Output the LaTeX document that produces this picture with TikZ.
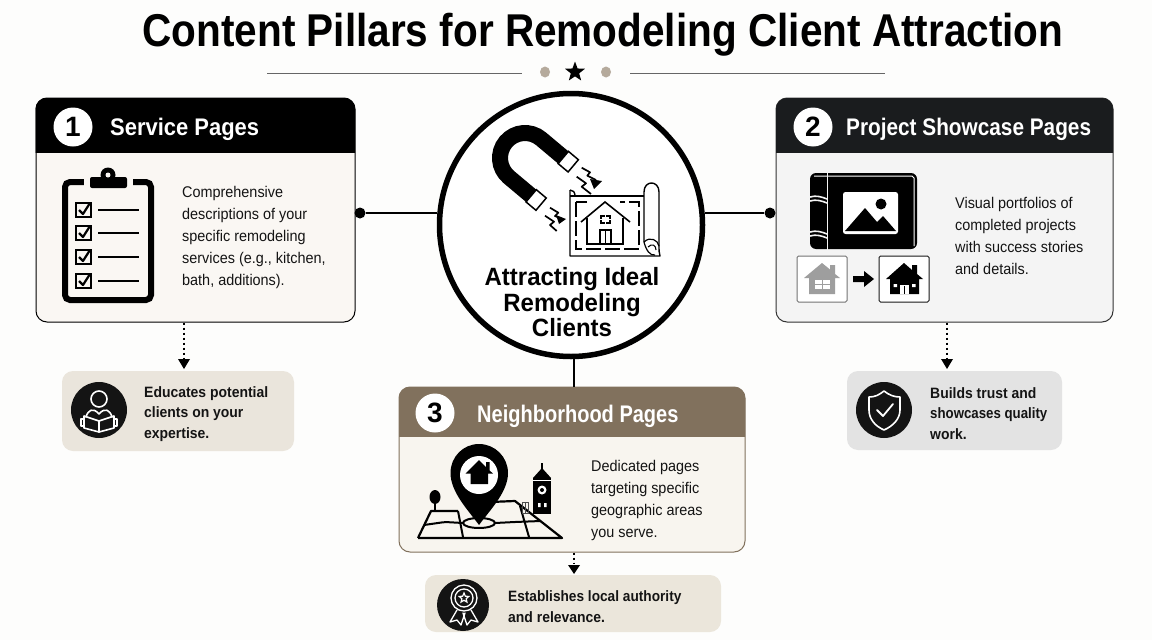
\documentclass[tikz,border=0pt]{standalone}
\usepackage{fontspec}
\usepackage{graphicx}
\setmainfont{Liberation Sans}
\newfontfamily\bodyfam[FakeStretch=0.93]{Liberation Sans}
\usetikzlibrary{shapes.geometric,arrows.meta}
\definecolor{pagebg}{HTML}{FDFDFC}
\definecolor{cardA}{HTML}{FAF7F3}
\definecolor{cardB}{HTML}{F4F4F4}
\definecolor{cardC}{HTML}{F8F5EF}
\definecolor{headB}{HTML}{1A1C1E}
\definecolor{headC}{HTML}{81715D}
\definecolor{callA}{HTML}{EAE5DC}
\definecolor{callB}{HTML}{E3E3E3}
\definecolor{callC}{HTML}{EBE6DB}
\definecolor{dotc}{HTML}{B5AA9C}
\definecolor{ink}{HTML}{141414}
\tikzset{
 cardbox/.style={draw=#1,line width=1pt,rounded corners=11pt,inner sep=0pt},
 callbox/.style={rounded corners=11pt,inner sep=0pt},
 numdisc/.style={circle,fill=white,minimum size=39pt,inner sep=0pt,text=black,font=\fontsize{28}{28}\selectfont\bfseries},
 headtext/.style={anchor=west,inner sep=0pt,text=white,font=\fontsize{24}{24}\selectfont\bfseries},
 bodytext/.style={anchor=west,inner sep=0pt,align=left,text=ink,font=\bodyfam\fontsize{15.5}{22}\selectfont},
 calltext/.style={anchor=west,inner sep=0pt,align=left,text=ink,font=\bodyfam\fontsize{15}{20.5}\selectfont\bfseries},
 icondisc/.style={circle,fill=ink,inner sep=0pt},
 enddot/.style={circle,fill=black,minimum size=11pt,inner sep=0pt},
 solidlink/.style={draw=black,line width=2.2pt},
 dotlink/.style={draw=black,line width=1.6pt,dash pattern=on 2.4pt off 2.6pt},
 tiptri/.style={fill=black},
 wline/.style={draw=white,line width=1.6pt,line join=round,line cap=round},
 kline/.style={draw=black,line width=1.7pt,line join=round},
}
\begin{document}
\begin{tikzpicture}[x=1pt,y=-1pt]
\useasboundingbox (0,0) rectangle (1152,640);
\fill[pagebg] (0,0) rectangle (1152,640);

% Title
\node[inner sep=0pt,text=black,font=\fontsize{46}{48}\selectfont\bfseries] (title) at (603,35) {\scalebox{0.881}[1]{Content Pillars for Remodeling Client Attraction}};
\coordinate (dla) at (267,73); \coordinate (dlb) at (522,73);
\coordinate (dra) at (630,73); \coordinate (drb) at (885,73);
\draw[draw=black!60,line width=1pt] (dla) -- (dlb);
\draw[draw=black!60,line width=1pt] (dra) -- (drb);
\node[ellipse,fill=dotc,minimum width=10pt,minimum height=11pt,inner sep=0pt] (dotl) at (545,72) {};
\node[ellipse,fill=dotc,minimum width=10pt,minimum height=11pt,inner sep=0pt] (dotr) at (606,72) {};
\node[star,star points=5,star point ratio=2.4,fill=black,minimum size=21pt,inner sep=0pt] (starmark) at (575,72) {};

% Cards
\node[cardbox=black,fill=cardA,minimum width=319pt,minimum height=224pt] (card1) at (195.5,210) {};
\node[cardbox=black!80,fill=cardB,minimum width=337pt,minimum height=224pt] (card2) at (944.5,210) {};
\node[cardbox=headC,fill=cardC,minimum width=346pt,minimum height=165pt] (card3) at (572,469.5) {};
\begin{scope}
\clip[rounded corners=11pt] (35.5,98) rectangle (355,322);
\fill[black] (35,98) rectangle (356,153);
\end{scope}
\begin{scope}
\clip[rounded corners=11pt] (776,98) rectangle (1113,322);
\fill[headB] (775,98) rectangle (1114,153);
\end{scope}
\begin{scope}
\clip[rounded corners=11pt] (399,387) rectangle (745,552);
\fill[headC] (398,387) rectangle (746,437);
\end{scope}

% Hub and connectors
\node[enddot] (dot1) at (360,213) {};
\node[enddot] (dot2) at (770,213) {};
\node[circle,draw=black,fill=white,line width=5.5pt,minimum size=263pt,inner sep=0pt] (hub) at (571,225) {};
\coordinate (vx) at (574,370);
\draw[solidlink] (dot1) -- (dot1 -| hub.west);
\draw[solidlink] (dot2) -- (dot2 -| hub.east);
\draw[solidlink] (hub.south -| vx) -- (card3.north -| vx);

% Headers
\node[numdisc] (num1) at (73,127) {1};
\node[headtext] (head1) at (110,129.5) {\scalebox{0.915}[1]{Service Pages}};
\node[numdisc] (num2) at (813,127) {2};
\node[headtext] (head2) at (846,129.5) {\scalebox{0.866}[1]{Project Showcase Pages}};
\node[numdisc] (num3) at (435,413) {3};
\node[headtext] (head3) at (477,416.5) {\scalebox{0.834}[1]{Neighborhood Pages}};

% Body texts
\node[bodytext] (body1) at (182,237.5) {Comprehensive\\descriptions of your\\specific remodeling\\services (e.g., kitchen,\\bath, additions).};
\node[bodytext] (body2) at (955,236) {Visual portfolios of\\completed projects\\with success stories\\and details.};
\node[bodytext] (body3) at (591,500) {Dedicated pages\\targeting specific\\geographic areas\\you serve.};

% Hub text
\node[inner sep=0pt,align=center,text=black,font=\fontsize{25}{25.5}\selectfont\bfseries] (hubtext) at (572,302.5) {\scalebox{0.96}[1]{Attracting Ideal}\\\scalebox{0.96}[1]{Remodeling}\\\scalebox{0.96}[1]{Clients}};

% Callouts
\node[callbox,fill=callA,minimum width=232pt,minimum height=80pt] (call1) at (178,411) {};
\node[callbox,fill=callB,minimum width=215pt,minimum height=79pt] (call2) at (954.5,410.5) {};
\node[callbox,fill=callC,minimum width=296pt,minimum height=57pt] (call3) at (573,603.5) {};
\node[icondisc,minimum size=56pt] (ic1) at (99,410) {};
\node[icondisc,minimum size=56pt] (ic2) at (884,410) {};
\node[icondisc,minimum size=52pt] (ic3) at (463,605) {};
\node[calltext] (ct1) at (144,414) {Educates potential\\clients on your\\expertise.};
\node[calltext] (ct2) at (930,413.5) {Builds trust and\\\scalebox{0.95}[1]{showcases quality}\\work.};
\node[calltext] (ct3) at (508,606.5) {\scalebox{0.98}[1]{Establishes local authority}\\and relevance.};

% Dotted arrows
\coordinate (ax1) at (184,340); \coordinate (ax2) at (947,340); \coordinate (ax3) at (574,560);
\coordinate (ae1) at (184,358); \coordinate (ae2) at (947,358); \coordinate (ae3) at (574,564);
\draw[dotlink] (card1.south -| ax1) -- (ae1);
\draw[dotlink] (card2.south -| ax2) -- (ae2);
\draw[dotlink] (card3.south -| ax3) -- (ae3);
\fill[tiptri] (178,359) -- (190,359) -- (184,369) -- cycle;
\fill[tiptri] (941,359) -- (953,359) -- (947,369) -- cycle;
\fill[tiptri] (568,565) -- (580,565) -- (574,574) -- cycle;

% Clipboard icon
\draw[black,line width=6pt,rounded corners=5pt] (65,182) rectangle (151,300);
\fill[cardA] (84,172) rectangle (133,186);
\fill[black,rounded corners=2pt] (90,177) rectangle (127,188);
\fill[black] (108,175) circle (7.5pt);
\fill[cardA] (108,175) circle (2.5pt);
\foreach \yy in {210,233,257,281}{
  \draw[black,line width=2pt] (76,\yy-7) rectangle (91,\yy+7);
  \draw[black,line width=2.2pt,line join=round] (79,\yy) -- (83,\yy+4) -- (90,\yy-7);
  \draw[black,line width=2.6pt] (98,\yy) -- (139,\yy);
}

% Magnet icon
\begin{scope}[shift={(525,158)},rotate=-40]
\draw[black,line width=16pt] (29,-25) -- (0,-25) arc[start angle=90,end angle=270,radius=25pt] -- (29,25);
\draw[black,fill=white,line width=1.5pt] (29,-33) rectangle (42,-17);
\draw[black,fill=white,line width=1.5pt] (29,17) rectangle (42,33);
\end{scope}
% Sparks
\draw[kline] (581.7,167.7) -- (590,172.3) -- (587.3,175.7) -- (596,180);
\fill[black] (590,179) -- (602,181) -- (594,189) -- cycle;
\draw[kline] (576.7,176.7) -- (586,183.3) -- (581.7,186.7) -- (591,194);
\draw[kline] (550,207.7) -- (558.3,212.7) -- (555,216) -- (562,219);
\fill[black] (556,215) -- (566,219) -- (559,224) -- cycle;
\draw[kline] (545,215.7) -- (554,221.7) -- (550,225) -- (556.7,231);

% Blueprint icon
\draw[black,line width=1.4pt,line join=round] (570,196) -- (644,196);
\draw[black,line width=1.4pt,line join=round] (570,190) -- (570,256) -- (660,256) .. controls (659,253) and (659,250) .. (659,246);
\draw[black,line width=1.4pt] (570,190) .. controls (573,190) and (575,192) .. (575,196);
\draw[black,line width=1.4pt] (644,242) -- (644,192) .. controls (644,180) and (659,180) .. (659,192) -- (659,246);
\draw[black,line width=1.2pt] (644,242) .. controls (646,250) and (650,256) .. (655,255);
\draw[black,line width=1.2pt] (644,242) .. controls (650,236) and (658,240) .. (659,246);
\draw[black,line width=1.1pt] (648,247) .. controls (652,243) and (656,245) .. (656,250);
\draw[black,line width=1.3pt,dash pattern=on 15pt off 4pt] (576,202) rectangle (639,249);
\fill[white] (590,201) rectangle (620,204);
\draw[black,line width=1.6pt,line join=miter] (581,222) -- (605,202) -- (630,222);
\draw[black,line width=1.6pt] (587,218) -- (587,244) -- (623,244) -- (623,218);
\draw[black,line width=1.5pt] (600,244) -- (600,230) -- (611,230) -- (611,244);
\draw[black,line width=1pt] (605.5,230) -- (605.5,244);
\draw[black,line width=1.3pt] (601,216) rectangle (610,223);
\draw[white,line width=1.5pt] (605.5,214) -- (605.5,225) (599,219.5) -- (612,219.5);

% Album icon
\fill[black,rounded corners=6pt] (810,173) rectangle (917,249);
\draw[white,line width=1pt,rounded corners=4pt] (814,176) -- (908,176) .. controls (912,176) and (914,178) .. (914,182) -- (914,246);
\draw[cardB,line width=1.6pt] (827.5,172) -- (827.5,250);
\draw[cardB,line width=1.6pt] (810,197) .. controls (816,195) and (822,197) .. (827,199);
\draw[cardB,line width=1.6pt] (810,201) .. controls (816,199) and (822,201) .. (827,203);
\draw[cardB,line width=1.6pt] (810,232) .. controls (816,230) and (822,232) .. (827,234);
\draw[cardB,line width=1.6pt] (810,236) .. controls (816,234) and (822,236) .. (827,238);
\fill[white,rounded corners=2.5pt] (843,192) rectangle (898,234);
\fill[black] (845,231) -- (865,208) -- (877,222) -- (883,216) -- (896,231) -- cycle;
\fill[black] (881,204) circle (5.5pt);

% Before/after
\node[draw=black!55,fill=white,rounded corners=1.5pt,line width=1pt,minimum width=50pt,minimum height=46pt,inner sep=0pt] (before) at (822,279) {};
\node[draw=black!90,fill=white,rounded corners=1.5pt,line width=1pt,minimum width=50pt,minimum height=46pt,inner sep=0pt] (after) at (904,279) {};
\fill[black!38] (804,278) -- (822,263) -- (830,269.5) -- (830,265) -- (835,265) -- (835,274) -- (840,278) -- (835,278) -- (835,294) -- (809,294) -- (809,278) -- cycle;
\fill[white] (815,280) rectangle (830,289);
\draw[black!38,line width=1pt] (822.5,280) -- (822.5,289) (815,284.5) -- (830,284.5);
\fill[black] (853,276) -- (864,276) -- (864,271) -- (874,279) -- (864,287) -- (864,282) -- (853,282) -- cycle;
\fill[black] (886,279) -- (904,263) -- (912,270) -- (912,265) -- (917,265) -- (917,274) -- (923,279) -- (919,279) -- (919,294) -- (890,294) -- (890,279) -- cycle;
\fill[white] (900,294) rectangle (909,285);
\fill[black] (904,286) rectangle (905,294);
\fill[white] (893.5,284) rectangle (897,287) (912,284) rectangle (915.5,287);

% Map icon
\draw[black,line width=2.2pt,line join=round] (418,538) -- (431,511) -- (458,511);
\draw[black,line width=2.2pt,line join=round] (490,502) -- (515,501) -- (562,538) -- (418,538);
\draw[black,line width=2pt,rounded corners=3pt] (424,525) -- (445,522) -- (463,523);
\draw[black,line width=2pt,rounded corners=3pt] (495,523) -- (515,522) -- (541,521);
\draw[black,line width=2pt] (458,511) -- (463,537);
\draw[black,line width=2pt] (520,506) -- (529,537);
\draw[black,line width=2pt] (479,523) ellipse (16pt and 5pt);
\fill[black] (450.5,473) .. controls (450.5,457) and (463,444) .. (479,444) .. controls (495,444) and (508,457) .. (508,473) .. controls (508,492) and (490,510) .. (479,525) .. controls (468,510) and (450.5,492) .. (450.5,473) -- cycle;
\fill[white] (479,475) circle (19pt);
\fill[black] (465.5,473.5) -- (479,460) -- (486,467) -- (486,462) -- (489.5,462) -- (489.5,470.5) -- (493,473.5) -- (488,473.5) -- (488,484) -- (470.5,484) -- (470.5,473.5) -- cycle;
% Tree
\fill[black] (435,497) ellipse (5.5pt and 7pt);
\draw[black,line width=1.8pt] (435,500) -- (435,511);
% Tower
\fill[black] (533,478) rectangle (551,514);
\fill[black] (533,478) -- (542,468) -- (551,478) -- cycle;
\draw[black,line width=1.2pt] (542,463) -- (542,470);
\fill[white] (533,480) rectangle (551,481);
\fill[white] (542,490) circle (4.5pt);
\fill[black] (542,490) circle (2pt);
\fill[white] (538,503) rectangle (540.5,507) (544,503) rectangle (546.5,507);
\draw[black!70,line width=1pt] (522,502) rectangle (528,513);
\draw[black!70,line width=1pt] (525,503) -- (525,513);

% Reader icon
\draw[wline] (99,399) circle (8pt);
\draw[wline] (86,417) .. controls (88,410) and (93,407) .. (99,414) .. controls (105,407) and (110,410) .. (112,417);
\draw[wline] (84,416) -- (99,421) -- (114,416) -- (114,428) -- (99,432) -- (84,428) -- cycle;
\draw[wline] (99,421) -- (99,432);
\draw[wline] (84,419) -- (81,419) -- (81,426) -- (84,426);
\draw[wline] (114,419) -- (117,419) -- (117,426) -- (114,426);

% Shield icon
\draw[wline] (884,391) .. controls (889,395) and (894,397) .. (900,397) -- (900,410) .. controls (900,419) and (893,426) .. (884,430) .. controls (875,426) and (869,419) .. (869,410) -- (869,397) .. controls (875,397) and (879,395) .. (884,391) -- cycle;
\draw[wline,line width=1.8pt] (877,410) -- (883,416) -- (893,404);

% Rosette icon
\draw[wline,line width=1.3pt] (464,598) circle (13pt);
\draw[wline,line width=1.3pt] (464,598) circle (9pt);
\node[star,star points=5,star point ratio=2.2,draw=white,line width=1.2pt,minimum size=10pt,inner sep=0pt] (rosestar) at (464,598) {};
\draw[wline,line width=1.3pt] (457,610) -- (450,622) -- (457,620) -- (461,625) -- (465,613);
\draw[wline,line width=1.3pt] (471,610) -- (478,622) -- (471,620) -- (467,625) -- (463,613);
\end{tikzpicture}
\end{document}
